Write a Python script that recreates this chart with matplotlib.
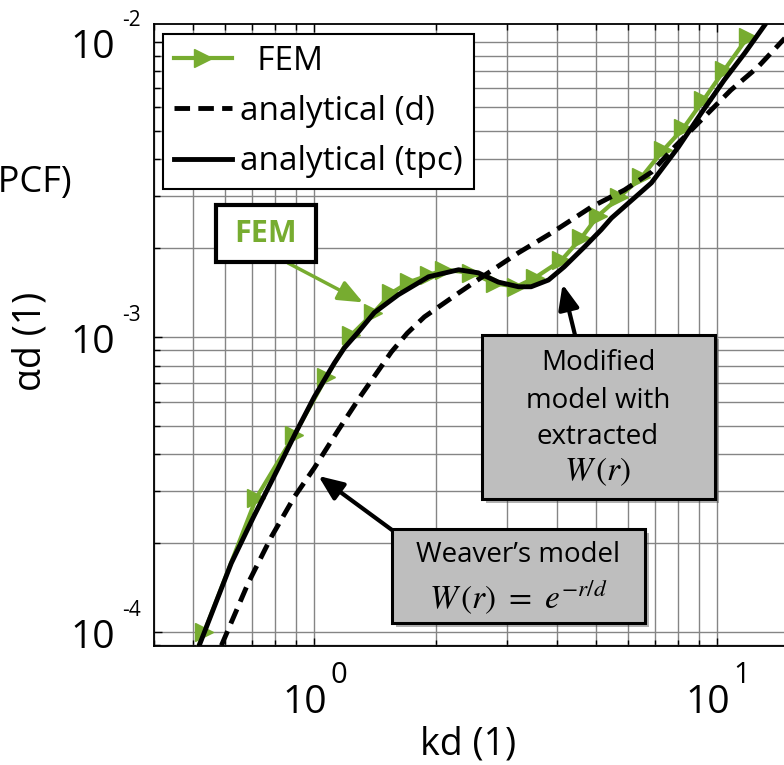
import matplotlib
matplotlib.use('Agg')
import numpy as np
import matplotlib.pyplot as plt
from matplotlib.lines import Line2D
from matplotlib.patches import Rectangle
from matplotlib.ticker import LogLocator, NullFormatter

plt.rcParams['font.family'] = ['Open Sans', 'DejaVu Sans']
plt.rcParams['mathtext.fontset'] = 'stix'

# ---- data -------------------------------------------------------------
# FEM results (first point only continues the line below the lower limit)
kd_fem = [0.515, 0.533, 0.718, 0.892, 1.071, 1.235, 1.40, 1.553, 1.72, 1.92,
          2.10, 2.45, 2.80, 3.17, 3.52, 4.10, 4.60, 5.05, 5.71, 6.48, 7.34,
          8.24, 9.23, 10.4, 11.9]
ad_fem = [8.9e-5, 1.0e-4, 2.85e-4, 4.66e-4, 7.31e-4, 1.016e-3, 1.205e-3,
          1.41e-3, 1.535e-3, 1.62e-3, 1.69e-3, 1.65e-3, 1.52e-3, 1.48e-3,
          1.585e-3, 1.82e-3, 2.17e-3, 2.57e-3, 2.98e-3, 3.48e-3, 4.30e-3,
          5.11e-3, 6.35e-3, 8.03e-3, 1.04e-2]

# analytical model, exponential correlation W(r) = exp(-r/d)
kd_d = [0.588, 0.686, 0.782, 0.892, 1.0, 1.147, 1.308, 1.553, 1.70, 1.875,
        2.28, 2.70, 3.21, 3.87, 4.87, 5.88, 6.86, 7.82, 9.12, 10.8, 12.6,
        14.7]
ad_d = [9.0e-5, 1.47e-4, 2.10e-4, 2.87e-4, 3.60e-4, 4.84e-4, 6.36e-4,
        8.9e-4, 1.03e-3, 1.17e-3, 1.41e-3, 1.65e-3, 1.93e-3, 2.25e-3,
        2.76e-3, 3.15e-3, 3.62e-3, 4.40e-3, 5.44e-3, 6.87e-3, 8.22e-3,
        1.03e-2]

# analytical model with the extracted two-point correlation
kd_tpc = [0.518, 0.622, 0.706, 0.814, 0.902, 1.0, 1.121, 1.187, 1.286, 1.409,
          1.615, 1.92, 2.28, 2.55, 2.86, 3.21, 3.45, 3.81, 4.17, 4.68, 5.15,
          5.46, 6.86, 8.0, 9.12, 10.4, 11.7, 13.1]
ad_tpc = [9.0e-5, 1.71e-4, 2.45e-4, 3.60e-4, 4.78e-4, 6.27e-4, 8.16e-4,
          9.18e-4, 1.04e-3, 1.21e-3, 1.39e-3, 1.60e-3, 1.69e-3, 1.65e-3,
          1.535e-3, 1.48e-3, 1.48e-3, 1.56e-3, 1.73e-3, 2.02e-3, 2.31e-3,
          2.53e-3, 3.33e-3, 4.40e-3, 5.74e-3, 7.43e-3, 9.18e-3, 1.14e-2]

series_labels = ['  FEM', 'analytical (d)', 'analytical (tpc)']
x_major = [1, 10]
x_exp = ['0', '1']
y_major = [1e-4, 1e-3, 1e-2]
y_exp = ['-4', '-3', '-2']

XLIM = (0.4, 20.0)
YLIM = (8.96e-5, 1.151e-2)

# ---- figure layout (pixel based) -----------------------------------
W, H = 784, 765
fig = plt.figure(figsize=(W / 100, H / 100), dpi=100)


def fx(px):
    return px / W


def fy(py):
    return 1 - py / H


x_decade = 403
ax_left, ax_top, ax_bot = 154, 24, 646
ax_w = x_decade * np.log10(XLIM[1] / XLIM[0])
ax = fig.add_axes([fx(ax_left), fy(ax_bot), ax_w / W, (ax_bot - ax_top) / H])

green = '#77AC30'
dash = (0, (3.2, 1.7))
LW = 3.5

ax.plot(kd_fem, ad_fem, color=green, lw=3.0, zorder=3)
ax.plot(kd_fem[1:], ad_fem[1:], ls='none', marker='>', ms=13,
        color=green, zorder=3)
ax.plot(kd_d, ad_d, color='k', lw=LW, ls=dash, zorder=4)
ax.plot(kd_tpc, ad_tpc, color='k', lw=LW, zorder=5)

ax.set_xscale('log')
ax.set_yscale('log')
ax.set_xlim(XLIM)
ax.set_ylim(YLIM)
for axis in (ax.xaxis, ax.yaxis):
    axis.set_major_locator(LogLocator(10, numticks=12))
    axis.set_minor_locator(LogLocator(10, subs=np.arange(2, 10), numticks=30))
    axis.set_minor_formatter(NullFormatter())
ax.tick_params(which='both', direction='in', top=True, right=True,
               labelbottom=False, labelleft=False)
ax.tick_params(which='major', length=6, width=1.0)
ax.tick_params(which='minor', length=4, width=1.0)
ax.grid(True, which='both', color='#858585', lw=1.0)
ax.set_axisbelow(True)
for s in ax.spines.values():
    s.set_linewidth(1.3)

# tick labels written as base + raised exponent
for v, e in zip(x_major, x_exp):
    ax.annotate('10', xy=(v, 0), xycoords=ax.get_xaxis_transform(),
                xytext=(13, -67), textcoords='offset pixels',
                ha='right', va='baseline', fontsize=28)
    ax.annotate(e, xy=(v, 0), xycoords=ax.get_xaxis_transform(),
                xytext=(16, -37), textcoords='offset pixels',
                ha='left', va='baseline', fontsize=21)
for v, e in zip(y_major, y_exp):
    ax.annotate('10', xy=(0, v), xycoords=ax.get_yaxis_transform(),
                xytext=(-39, -16), textcoords='offset pixels',
                ha='right', va='baseline', fontsize=28)
    ax.annotate(e, xy=(0, v), xycoords=ax.get_yaxis_transform(),
                xytext=(-32, 16), textcoords='offset pixels',
                ha='left', va='baseline', fontsize=15)

fig.text(fx(468), fy(744), 'kd (1)', ha='center', va='center', fontsize=27)
fig.text(fx(31), fy(341), 'αd (1)', rotation=90, ha='center', va='center',
         fontsize=27)
fig.text(fx(72), fy(183), '(PCF)', ha='right', va='center', fontsize=26)

# legend
handles = [
    Line2D([], [], color=green, lw=3.0, marker='>', ms=13),
    Line2D([], [], color='k', lw=LW, ls=dash),
    Line2D([], [], color='k', lw=LW),
]
leg = ax.legend(handles, series_labels, loc='upper left',
                bbox_to_anchor=(fx(163), fy(34)),
                bbox_transform=fig.transFigure, borderaxespad=0,
                fontsize=24, handlelength=1.75, handletextpad=0.25,
                labelspacing=0.52, borderpad=0.32, frameon=True,
                fancybox=False, edgecolor='k', framealpha=1)
leg.get_frame().set_linewidth(1.5)
leg.set_zorder(10)


# annotation boxes
def box(x0, y0, x1, y1, face, lw, shadow=False):
    if shadow:
        fig.add_artist(Rectangle((fx(x0 + 4), fy(y1 + 4)), (x1 - x0) / W,
                                 (y1 - y0) / H, transform=fig.transFigure,
                                 fc='#404040', ec='none', alpha=0.4,
                                 zorder=8))
    fig.add_artist(Rectangle((fx(x0), fy(y1)), (x1 - x0) / W, (y1 - y0) / H,
                             transform=fig.transFigure, fc=face, ec='k',
                             lw=lw, zorder=9))


box(216, 205, 316, 262, 'white', 3.0)
fig.text(fx(266), fy(234), 'FEM', color=green, fontweight='bold',
         fontsize=22, ha='center', va='center', zorder=11)

box(482, 335, 715, 499, '#bebebe', 2.2, shadow=True)
for txt, yy in zip(['Modified', 'model with', 'extracted'], [363, 401, 437]):
    fig.text(fx(598), fy(yy), txt, fontsize=20, ha='center', va='center',
             zorder=11)
fig.text(fx(598), fy(472), r'$W\,(r)$', fontsize=24, ha='center',
         va='center', zorder=11)

box(392, 529, 645, 623, '#bebebe', 2.2, shadow=True)
fig.text(fx(518), fy(555), 'Weaver’s model', fontsize=20, ha='center',
         va='center', zorder=11)
fig.text(fx(518), fy(598), r'$W\,(r)\ =\ e^{-r/d}$', fontsize=24,
         ha='center', va='center', zorder=11)

arrow_kw = dict(arrowstyle='-|>,head_length=0.6,head_width=0.25',
                mutation_scale=25, shrinkA=0, shrinkB=0)
ax.annotate('', xy=(1.32, 1.31e-3), xycoords='data',
            xytext=(fx(288), fy(263)), textcoords='figure fraction',
            arrowprops=dict(color=green, lw=2.5, **arrow_kw), zorder=6)
ax.annotate('', xy=(4.13, 1.51e-3), xycoords='data',
            xytext=(fx(575), fy(335)), textcoords='figure fraction',
            arrowprops=dict(color='k', lw=3.0, **arrow_kw), zorder=6)
ax.annotate('', xy=(1.023, 3.38e-4), xycoords='data',
            xytext=(fx(392), fy(530)), textcoords='figure fraction',
            arrowprops=dict(color='k', lw=3.0, **arrow_kw), zorder=6)

fig.savefig('out.png', dpi=100)
